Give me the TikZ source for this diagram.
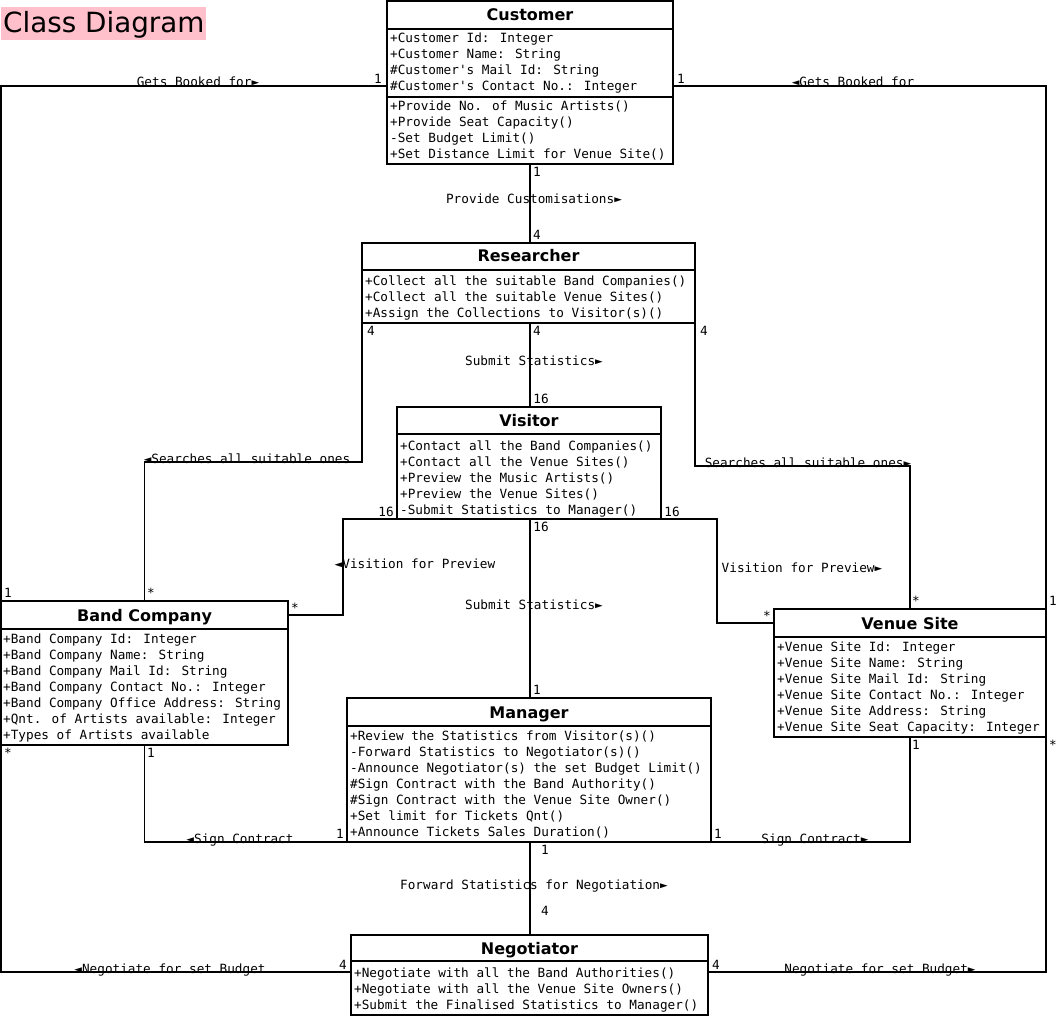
\documentclass[tikz,border=0pt]{standalone}
\usepackage{fontspec}
\setmainfont{DejaVu Sans}
\newfontfamily\monof{DejaVu Sans Mono}
\usetikzlibrary{calc}
\definecolor{titlepink}{HTML}{FFC0CB}
\tikzset{
  classbox/.style={draw=black, line width=1.6pt, fill=white, anchor=north west, inner sep=0pt, outer sep=0pt},
  sepline/.style={line width=1.6pt},
  conn/.style={line width=1.6pt},
  mtext/.style={font=\monof\fontsize{12.7}{16}\selectfont, anchor=base west, inner sep=0pt},
  ctitle/.style={font=\fontsize{16}{19}\selectfont\bfseries, anchor=base, inner sep=0pt},
  elabel/.style={font=\monof\fontsize{12.7}{16}\selectfont, anchor=base, inner sep=0pt},
  mult/.style={font=\monof\fontsize{12.7}{16}\selectfont, anchor=center, inner sep=0pt},
}
\newcommand\mlines[4]{%
  \foreach \t [count=\i from 0] in {#4} \node[mtext] (#1\i) at (#2, #3+16*\i) {\t};}
\begin{document}
\begin{tikzpicture}[x=1pt,y=-1pt]
\useasboundingbox (0,0) rectangle (1058,1016);

% title
\node[fill=titlepink, minimum width=205, minimum height=33, anchor=north west, inner sep=0pt] (titlebg) at (1,7) {};
\node[font=\fontsize{27.8}{30}\selectfont, anchor=base west, inner sep=0pt] (title) at (3,33) {Class Diagram};

% ---------- class boxes ----------
\node[classbox, minimum width=286, minimum height=163] (cust) at (387,1) {};
\node[classbox, minimum width=333, minimum height=80] (res) at (362,243) {};
\node[classbox, minimum width=264, minimum height=112] (vis) at (397,407) {};
\node[classbox, minimum width=287, minimum height=144] (band) at (1,601) {};
\node[classbox, minimum width=272, minimum height=128] (venue) at (774,609) {};
\node[classbox, minimum width=364, minimum height=144] (man) at (347,698) {};
\node[classbox, minimum width=357, minimum height=80] (neg) at (351,935) {};

% ---------- connectors ----------
\draw[conn] ($(cust.north west)+(0,85)$) -| (band.north west);
\draw[conn] ($(cust.north east)+(0,85)$) -| (venue.north east);
\draw[conn] (cust.south) -- (cust.south |- res.north);
\draw[conn] (res.south west) -- ++(0,139) -| (band.north);
\draw[conn] (cust.south |- res.south) -- (cust.south |- vis.north);
\draw[conn] (res.south east) -- ++(0,143) -| (venue.north);
\draw[conn] (vis.south west) -- ++(-54,0) |- ($(band.north east)+(0,14)$);
\draw[conn] (vis.south east) -- ++(56,0) |- ($(venue.north west)+(0,14)$);
\draw[conn] (cust.south |- vis.south) -- (cust.south |- man.north);
\draw[conn] (band.south) |- (man.south west);
\draw[conn] (venue.south) |- (man.south east);
\draw[conn] (cust.south |- man.south) -- (cust.south |- neg.north);
\draw[conn] (band.south west) |- ($(neg.north west)+(0,37)$);
\draw[conn] (venue.south east) |- ($(neg.north east)+(0,37)$);

% ---------- class contents ----------
% Customer
\draw[sepline] (387,29) -- (673,29);
\draw[sepline] (387,97) -- (673,97);
\node[ctitle] (custt) at (530,20.8) {Customer};
\mlines{custa}{390}{43}{+Customer Id: Integer,+Customer Name: String,\#Customer's Mail Id: String,\#Customer's Contact No.: Integer}
\mlines{custm}{390}{111}{+Provide No. of Music Artists(),+Provide Seat Capacity(),-Set Budget Limit(),+Set Distance Limit for Venue Site()}

% Researcher
\draw[sepline] (362,270) -- (695,270);
\node[ctitle] (rest) at (528.5,262) {Researcher};
\mlines{resm}{365}{286}{+Collect all the suitable Band Companies(),+Collect all the suitable Venue Sites(),+Assign the Collections to Visitor(s)()}

% Visitor
\draw[sepline] (397,434) -- (661,434);
\node[ctitle] (vist) at (529,426) {Visitor};
\mlines{vism}{400}{450}{+Contact all the Band Companies(),+Contact all the Venue Sites(),+Preview the Music Artists(),+Preview the Venue Sites(),-Submit Statistics to Manager()}

% Band Company
\draw[sepline] (1,629) -- (288,629);
\node[ctitle] (bandt) at (144.5,621) {Band Company};
\mlines{banda}{3}{643}{+Band Company Id: Integer,+Band Company Name: String,+Band Company Mail Id: String,+Band Company Contact No.: Integer,+Band Company Office Address: String,+Qnt. of Artists available: Integer,+Types of Artists available}

% Venue Site
\draw[sepline] (774,637) -- (1046,637);
\node[ctitle] (venuet) at (910,629) {Venue Site};
\mlines{venuea}{777}{651}{+Venue Site Id: Integer,+Venue Site Name: String,+Venue Site Mail Id: String,+Venue Site Contact No.: Integer,+Venue Site Address: String,+Venue Site Seat Capacity: Integer}

% Manager
\draw[sepline] (347,726) -- (711,726);
\node[ctitle] (mant) at (529,718) {Manager};
\mlines{manm}{350}{740}{+Review the Statistics from Visitor(s)(),-Forward Statistics to Negotiator(s)(),-Announce Negotiator(s) the set Budget Limit(),\#Sign Contract with the Band Authority(),\#Sign Contract with the Venue Site Owner(),+Set limit for Tickets Qnt(),+Announce Tickets Sales Duration()}

% Negotiator
\draw[sepline] (351,961) -- (708,961);
\node[ctitle] (negt) at (529.5,954) {Negotiator};
\mlines{negm}{354}{977}{+Negotiate with all the Band Authorities(),+Negotiate with all the Venue Site Owners(),+Submit the Finalised Statistics to Manager()}

% ---------- edge labels ----------
\node[elabel] (l1) at (198,87) {Gets Booked for►};
\node[elabel] (l2) at (853,87) {◄Gets Booked for};
\node[elabel] (l3) at (534,204) {Provide Customisations►};
\node[elabel] (l4) at (247,463) {◄Searches all suitable ones};
\node[elabel] (l5) at (808,467) {Searches all suitable ones►};
\node[elabel] (l6) at (534,366) {Submit Statistics►};
\node[elabel] (l7) at (415,568) {◄Visition for Preview};
\node[elabel] (l8) at (802,572) {Visition for Preview►};
\node[elabel] (l9) at (534,609) {Submit Statistics►};
\node[elabel] (l10) at (240,843) {◄Sign Contract};
\node[elabel] (l11) at (815,843) {Sign Contract►};
\node[elabel] (l12) at (534,889) {Forward Statistics for Negotiation►};
\node[elabel] (l13) at (170,973) {◄Negotiate for set Budget};
\node[elabel] (l14) at (880,973) {Negotiate for set Budget►};

% ---------- multiplicities ----------
\node[mult] (m1) at (378,79) {1};
\node[mult] (m2) at (681,79) {1};
\node[mult] (m3) at (8,593) {1};
\node[mult] (m4) at (1053,601) {1};
\node[mult] (m5) at (537,172) {1};
\node[mult] (m6) at (537,235) {4};
\node[mult] (m7) at (371,331) {4};
\node[mult] (m8) at (151,593) {*};
\node[mult] (m9) at (537,331) {4};
\node[mult] (m10) at (541,399) {16};
\node[mult] (m11) at (704,331) {4};
\node[mult] (m12) at (916,601) {*};
\node[mult] (m13) at (386,512) {16};
\node[mult] (m14) at (295,608) {*};
\node[mult] (m15) at (672,512) {16};
\node[mult] (m16) at (767,616) {*};
\node[mult] (m17) at (541,527) {16};
\node[mult] (m18) at (537,690) {1};
\node[mult] (m19) at (151,753) {1};
\node[mult] (m20) at (340,834) {1};
\node[mult] (m21) at (916,745) {1};
\node[mult] (m22) at (718,834) {1};
\node[mult] (m23) at (545,850) {1};
\node[mult] (m24) at (545,911) {4};
\node[mult] (m25) at (8,753) {*};
\node[mult] (m26) at (343,965) {4};
\node[mult] (m27) at (1053,745) {*};
\node[mult] (m28) at (716,965) {4};
\end{tikzpicture}
\end{document}
